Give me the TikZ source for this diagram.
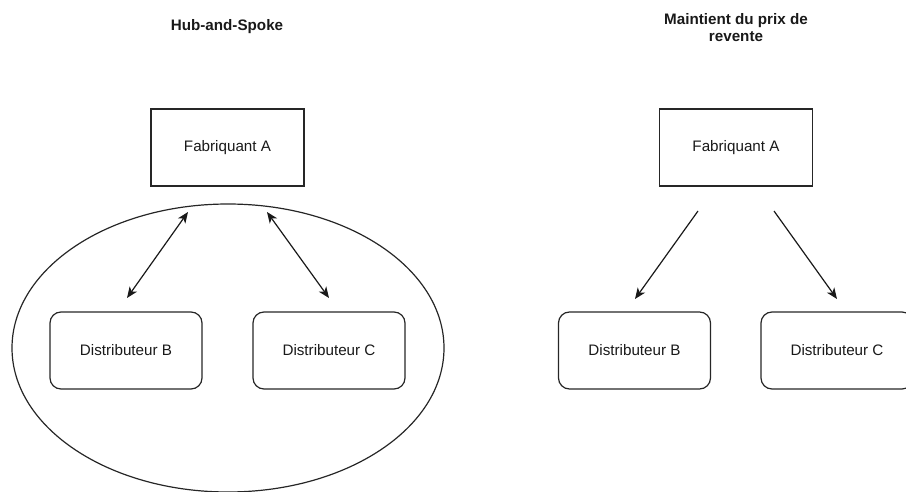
\documentclass[tikz,border=0pt]{standalone}
\usepackage{fontspec}
\setmainfont{Liberation Sans}
\usetikzlibrary{arrows.meta,shapes.geometric}
\begin{document}
\begin{tikzpicture}[x=1pt,y=-1pt,
  every node/.style={font=\fontsize{15.2}{18}\selectfont, text=black!90},
  boxA/.style={draw=black!85, line width=1.2pt, minimum width=153pt, minimum height=77pt, inner sep=0pt},
  distbox/.style={draw=black!85, line width=1.2pt, rounded corners=11pt, minimum width=152pt, minimum height=77pt, inner sep=0pt},
  titlenode/.style={font=\fontsize{15.2}{17}\selectfont\bfseries, align=center},
  conn/.style={draw=black!90, line width=1.2pt, -{Stealth[length=11pt,width=9pt,inset=3pt]}},
  biconn/.style={draw=black!90, line width=1.2pt, {Stealth[length=11pt,width=9pt,inset=3pt]}-{Stealth[length=11pt,width=9pt,inset=3pt]}}
]
\useasboundingbox (0,0) rectangle (906,492);
% Left: Hub-and-Spoke
\node[titlenode] (t1) at (227,27) {Hub-and-Spoke};
\node[draw=black!85, line width=1.2pt, ellipse, minimum width=432pt, minimum height=288pt, inner sep=0pt] (ell) at (228,348) {};
\node[boxA] (fa1) at (227.5,147.5) {Fabriquant A};
\node[distbox] (db1) at (126,350.5) {Distributeur B};
\node[distbox] (dc1) at (329,350.5) {Distributeur C};
\coordinate (p1a) at (188,212);
\coordinate (p1b) at (127,298);
\coordinate (p2a) at (267,212);
\coordinate (p2b) at (329,298);
\draw[biconn] (p1a) -- (p1b);
\draw[biconn] (p2a) -- (p2b);
% Right: Maintient du prix de revente
\node[titlenode] (t2) at (736,27.5) {Maintient du prix de\\revente};
\node[boxA] (fa2) at (736,147.5) {Fabriquant A};
\node[distbox] (db2) at (634.5,350.5) {Distributeur B};
\node[distbox] (dc2) at (837,350.5) {Distributeur C};
\coordinate (q1a) at (698,211);
\coordinate (q1b) at (635,299);
\coordinate (q2a) at (774,211);
\coordinate (q2b) at (837,299);
\draw[conn] (q1a) -- (q1b);
\draw[conn] (q2a) -- (q2b);
\end{tikzpicture}
\end{document}
